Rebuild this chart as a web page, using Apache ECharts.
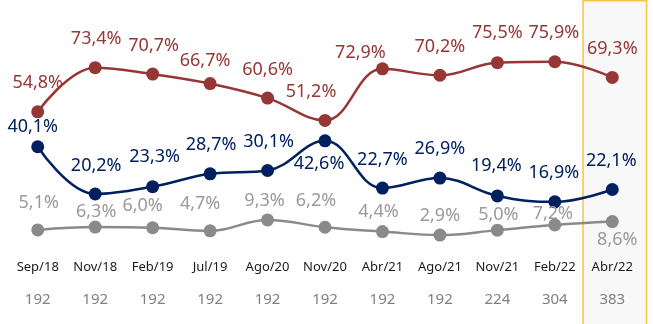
<!DOCTYPE html>
<html>
<head>
<meta charset="utf-8">
<script src="https://cdn.jsdelivr.net/npm/echarts@6/dist/echarts.min.js"></script>
<style>
  html, body { margin: 0; padding: 0; background: #ffffff; }
  #chart { width: 653px; height: 324px; }
</style>
</head>
<body>
<div id="chart"></div>
<script>
// Survey waves and their sample sizes
const categories = ['Sep/18', 'Nov/18', 'Feb/19', 'Jul/19', 'Ago/20', 'Nov/20', 'Abr/21', 'Ago/21', 'Nov/21', 'Feb/22', 'Abr/22'];
const sampleSizes = ['192', '192', '192', '192', '192', '192', '192', '192', '224', '304', '383'];

// Percentages per wave
const redValues = [54.8, 73.4, 70.7, 66.7, 60.6, 51.2, 72.9, 70.2, 75.5, 75.9, 69.3];
const navyValues = [40.1, 20.2, 23.3, 28.7, 30.1, 42.6, 22.7, 26.9, 19.4, 16.9, 22.1];
const grayValues = [5.1, 6.3, 6.0, 4.7, 9.3, 6.2, 4.4, 2.9, 5.0, 7.2, 8.6];

// Label nudges [dx, dy] so the percentages don't collide
const redShift = [[0, 0], [1, 0], [1, 0], [-5, 6], [0, 0], [-14, 0], [-22, 13], [0, 0], [0, -1], [-1, 0], [0, 0]];
const navyShift = [[-5, 9], [1, 0], [2, -1], [1, 0], [1, 0], [-6, 52], [0, 0], [0, -1], [-1, -2], [-1, 0], [-1, 0]];
const grayShift = [[1, 1], [1, 13], [-10, 7], [-10, 2], [-3, 9], [-9, 2], [-4, 9], [0, 9], [1, 13], [-2, 17], [5, 47]];

const FONT = '"Noto Sans", "Open Sans", sans-serif';

function pct(v) {
  return v.toFixed(1).replace('.', ',') + '%';
}

function buildData(values, shifts) {
  return values.map((v, i) => ({
    value: v,
    label: { offset: shifts[i] }
  }));
}

function lineSeries(name, values, shifts, color, labelColor) {
  return {
    name: name,
    type: 'line',
    xAxisIndex: 0,
    smooth: 0.4,
    symbol: 'circle',
    symbolSize: 13,
    lineStyle: { color: color, width: 2.5 },
    itemStyle: { color: color },
    label: {
      show: true,
      position: 'top',
      distance: 13,
      color: labelColor,
      fontFamily: FONT,
      fontSize: 18,
      formatter: p => pct(p.value)
    },
    emphasis: { disabled: true },
    data: buildData(values, shifts),
    z: 3
  };
}

const chart = echarts.init(document.getElementById('chart'), null, { renderer: 'canvas' });

chart.setOption({
  animation: false,
  backgroundColor: '#ffffff',
  grid: { left: 9, right: 12, top: 52, bottom: 82, containLabel: false },
  xAxis: [
    {
      type: 'category',
      data: categories,
      position: 'bottom',
      axisLine: { show: false },
      axisTick: { show: false },
      axisLabel: { color: '#1a1a1a', fontFamily: FONT, fontSize: 13, margin: 19, interval: 0 }
    },
    {
      type: 'category',
      data: sampleSizes,
      position: 'bottom',
      axisLine: { show: false },
      axisTick: { show: false },
      axisLabel: { color: '#808080', fontFamily: FONT, fontSize: 15, margin: 50, interval: 0 }
    }
  ],
  yAxis: {
    type: 'value',
    min: 0,
    max: 80,
    show: false
  },
  series: [
    lineSeries('Rojo', redValues, redShift, '#953735', '#953735'),
    lineSeries('Azul', navyValues, navyShift, '#002060', '#002060'),
    lineSeries('Gris', grayValues, grayShift, '#8a8a8a', '#9a9a9a')
  ]
});

// Highlight box around the latest wave
const lastCat = categories[categories.length - 1];
const cx = chart.convertToPixel({ xAxisIndex: 0 }, lastCat);
const band = chart.convertToPixel({ xAxisIndex: 0 }, categories[1]) - chart.convertToPixel({ xAxisIndex: 0 }, categories[0]);
const boxLeft = cx - band / 2 - 0.5;
chart.setOption({
  graphic: [{
    type: 'rect',
    z: -10,
    silent: true,
    shape: { x: boxLeft, y: 0.75, width: 63.5, height: 340 },
    style: { fill: '#f8f8f8', stroke: '#f5c542', lineWidth: 1.5 }
  }]
});
</script>
</body>
</html>
